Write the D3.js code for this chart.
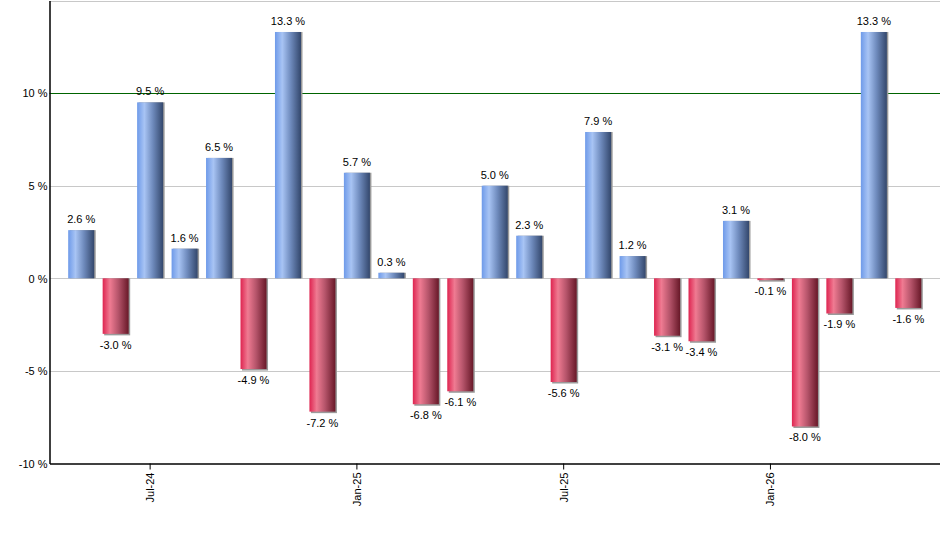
<!DOCTYPE html>
<html>
<head>
<meta charset="utf-8">
<script src="https://cdn.jsdelivr.net/npm/d3@7"></script>
<style>
  body { margin: 0; background: #fff; }
  svg text { font-family: "Liberation Sans", Arial, sans-serif; font-size: 11px; fill: #000; }
</style>
</head>
<body>
<svg id="chart" width="940" height="550"></svg>
<script>
const months = ["May-24", "Jun-24", "Jul-24", "Aug-24", "Sep-24", "Oct-24", "Nov-24", "Dec-24",
    "Jan-25", "Feb-25", "Mar-25", "Apr-25", "May-25", "Jun-25", "Jul-25", "Aug-25",
    "Sep-25", "Oct-25", "Nov-25", "Dec-25", "Jan-26", "Feb-26", "Mar-26", "Apr-26", "May-26"];
const returns = [2.6, -3.0, 9.5, 1.6, 6.5, -4.9, 13.3, -7.2, 5.7, 0.3, -6.8, -6.1, 5.0, 2.3,
    -5.6, 7.9, 1.2, -3.1, -3.4, 3.1, -0.1, -8.0, -1.9, 13.3, -1.6];
const tickMonths = ["Jul-24", "Jan-25", "Jul-25", "Jan-26"];
const yTicks = [-10, -5, 0, 5, 10];
const gridValues = [-5, 0, 5, 15];

const width = 940;
const height = 550;
const margin = {top: 0.5, right: 0, bottom: 86.5, left: 49.5};

let svg = d3.select("#chart");

const x = d3.scaleBand()
    .domain(months)
    .range([margin.left, width - margin.right])
    .paddingInner(0.245)
    .paddingOuter(0.5425);

const y = d3.scaleLinear()
    .domain([-10, 15])
    .range([height - margin.bottom, margin.top]);

// gradients for bars
const defs = svg.append("defs");
function addGradient(id, stops) {
    let g = defs.append("linearGradient").attr("id", id)
        .attr("x1", "0%").attr("x2", "100%").attr("y1", "0%").attr("y2", "0%");
    stops.forEach(s => g.append("stop").attr("offset", s[0]).attr("stop-color", s[1]));
}
addGradient("gradUp", [["0%", "#6e9ae9"], ["28%", "#a8c4f4"], ["60%", "#6f8bbd"], ["100%", "#33476c"]]);
addGradient("gradDown", [["0%", "#de2450"], ["28%", "#ef7b92"], ["60%", "#b5546a"], ["100%", "#681828"]]);

// grid lines
svg.append("g")
    .selectAll("line")
    .data(gridValues)
    .enter()
    .append("line")
    .attr("x1", margin.left)
    .attr("x2", width)
    .attr("y1", d => Math.round(y(d)) + 0.5)
    .attr("y2", d => Math.round(y(d)) + 0.5)
    .attr("stroke", "#c8c8c8")
    .attr("stroke-width", 1);

svg.append("line")
    .attr("x1", margin.left)
    .attr("x2", width)
    .attr("y1", Math.round(y(10)) + 0.5)
    .attr("y2", Math.round(y(10)) + 0.5)
    .attr("stroke", "#006400")
    .attr("stroke-width", 1);

// shadows
svg.append("g")
    .selectAll("rect")
    .data(returns)
    .enter()
    .append("rect")
    .attr("x", (d, i) => x(months[i]) + 1.5)
    .attr("y", d => Math.min(y(d), y(0)))
    .attr("width", x.bandwidth())
    .attr("height", d => Math.abs(y(d) - y(0)) + (d < 0 ? 1.5 : 0))
    .attr("fill", "#9a9a9a");

// bars
svg.append("g")
    .selectAll("rect")
    .data(returns)
    .enter()
    .append("rect")
    .attr("x", (d, i) => x(months[i]))
    .attr("y", d => Math.min(y(d), y(0)))
    .attr("width", x.bandwidth())
    .attr("height", d => Math.max(1, Math.abs(y(d) - y(0))))
    .attr("fill", d => d >= 0 ? "url(#gradUp)" : "url(#gradDown)");

// value labels
svg.append("g")
    .selectAll("text")
    .data(returns)
    .enter()
    .append("text")
    .attr("x", (d, i) => x(months[i]) + x.bandwidth() / 2)
    .attr("y", d => d >= 0 ? y(d) - 7 : y(d) + 15)
    .attr("text-anchor", "middle")
    .text(d => d.toFixed(1) + " %");

// y axis
const yAxis = d3.axisLeft(y)
    .tickValues(yTicks)
    .tickSize(0)
    .tickPadding(2)
    .tickFormat(d => d + " %");

let yg = svg.append("g")
    .attr("transform", "translate(" + margin.left + ",0)")
    .call(yAxis);
yg.select(".domain").attr("stroke", "#000").attr("stroke-width", 1.5);
yg.selectAll("text").attr("dy", "0.35em").style("font-size", "11px");

// x axis
const xAxis = d3.axisBottom(x)
    .tickValues(tickMonths)
    .tickSize(6)
    .tickSizeOuter(0);

let xg = svg.append("g")
    .attr("transform", "translate(0," + (height - margin.bottom) + ")")
    .call(xAxis);
xg.select(".domain").attr("stroke", "#000").attr("stroke-width", 1.5);
xg.selectAll(".tick line").attr("stroke", "#000");
xg.selectAll("text")
    .attr("transform", "rotate(-90)")
    .attr("text-anchor", "end")
    .attr("x", -9)
    .attr("y", 0)
    .attr("dy", "0.35em")
    .style("font-size", "11px");
</script>
</body>
</html>
